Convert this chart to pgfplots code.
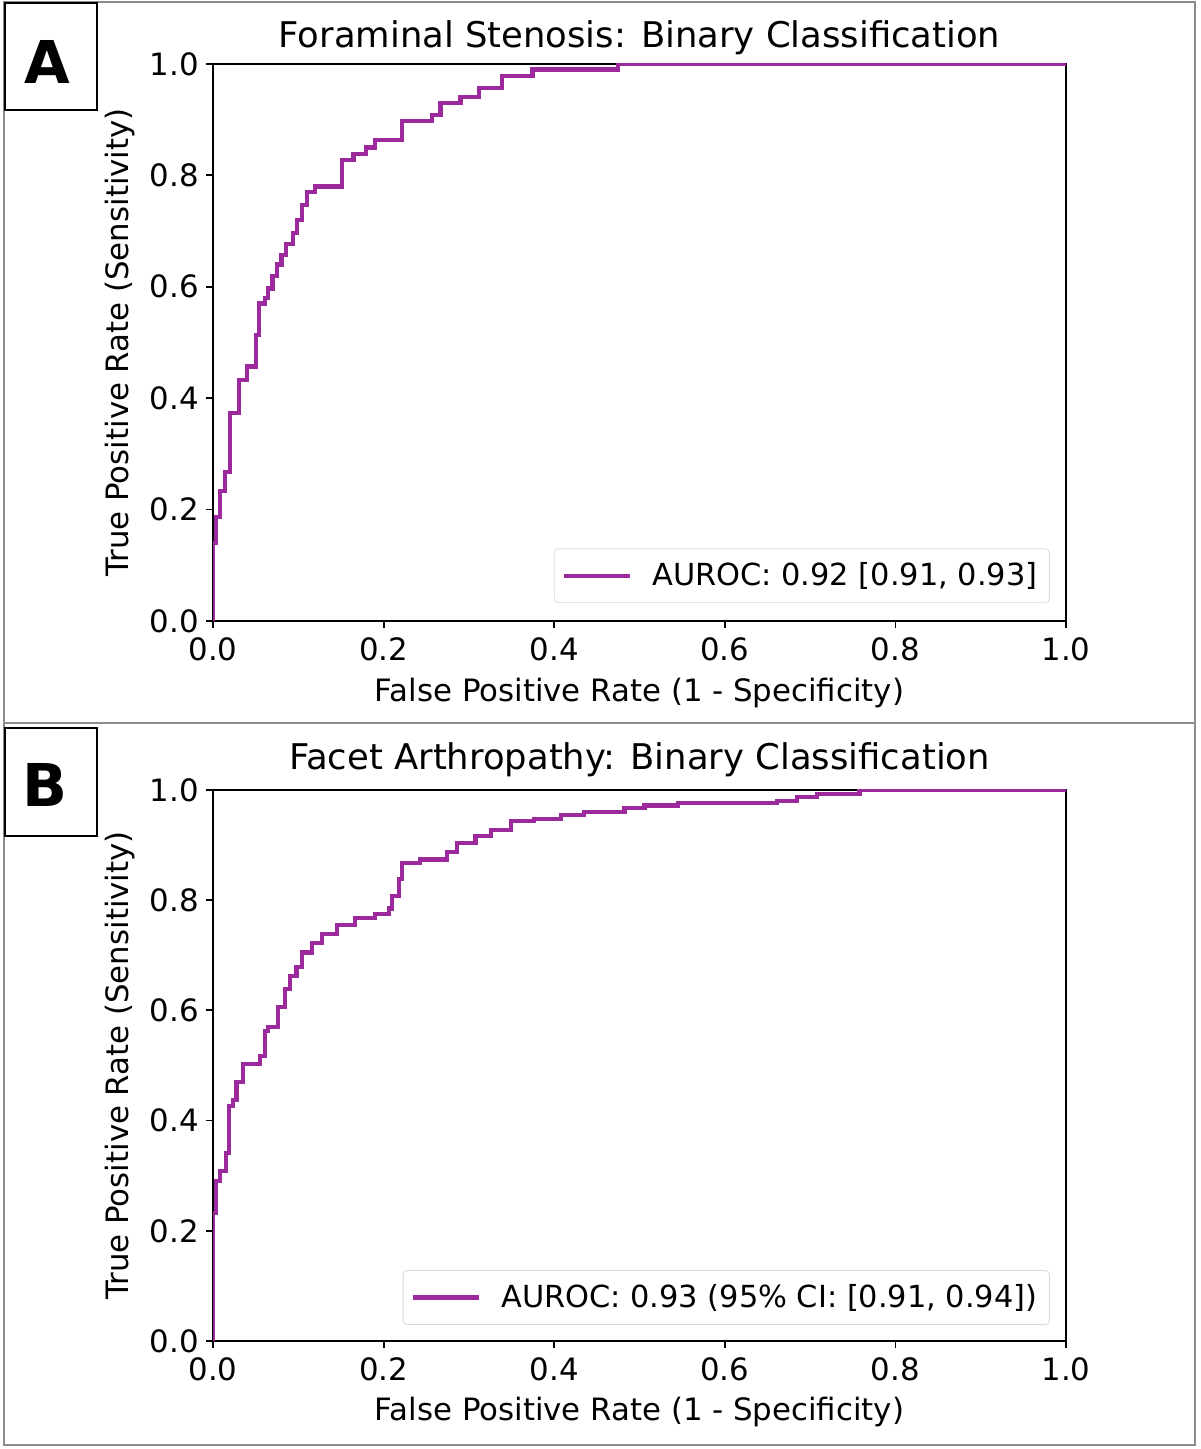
\documentclass[border=0pt]{standalone}
\usepackage{fontspec}
\setmainfont{DejaVu Sans}
\usepackage{pgfplots}
\pgfplotsset{compat=1.18}
\definecolor{roc}{RGB}{156,42,156}
\definecolor{framegray}{RGB}{140,140,140}

\pgfplotsset{rocaxis/.style={
  scale only axis, width=426.5pt,
  xmin=0, xmax=1, ymin=0, ymax=1,
  xtick={0,0.2,0.4,0.6,0.8,1},
  ytick={0,0.2,0.4,0.6,0.8,1},
  tick pos=left,
  tick align=outside,
  major tick length=3.5pt,
  /pgf/number format/fixed,
  /pgf/number format/fixed zerofill,
  /pgf/number format/precision=1,
  /pgf/number format/assume math mode=true,
  tick label style={font=\fontsize{15.4}{18}\selectfont, black},
  xticklabel style={yshift=-1.5pt},
  label style={font=\fontsize{15.4}{18}\selectfont},
  every axis title shift=0pt,
  title style={font=\fontsize{17.7}{21}\selectfont, anchor=base},
  axis line style={line width=0.9pt, black},
  every tick/.style={black, line width=0.9pt},
  xlabel={False Positive Rate (1 - Specificity)},
  ylabel={True Positive Rate (Sensitivity)},
  xlabel style={at={(axis description cs:0.5,-0.144)}, anchor=base},
  ylabel style={at={(axis description cs:-0.109,0.5)}, anchor=center},
  legend cell align=left,
  legend image code/.code={\draw[#1] (0pt,0pt) -- (33pt,0pt);},
  legend style={font=\fontsize{15.2}{18}\selectfont, draw=black!15, rounded corners=2pt,
     fill=white, inner xsep=4pt, inner ysep=5pt, anchor=south east,
     /tikz/every odd column/.append style={column sep=8pt}},
}}

\begin{document}
\begin{tikzpicture}
\useasboundingbox (0,0) rectangle (600pt,724.5pt);
\draw[framegray, line width=1pt] (2pt,2pt) rectangle (597.5pt,723.5pt);
\draw[framegray, line width=1.2pt] (2pt,363pt) -- (597.5pt,363pt);
\draw[black, line width=1pt] (2.5pt,669.5pt) rectangle (48.5pt,723pt);
\node[font=\fontsize{29.5}{32}\selectfont\bfseries] at (23.5pt,693.5pt) {A};
\draw[black, line width=1pt] (2.5pt,306.5pt) rectangle (48.5pt,360.5pt);
\node[font=\fontsize{29.5}{32}\selectfont\bfseries] at (22.5pt,332pt) {B};

\begin{axis}[rocaxis, at={(106.5pt,414pt)}, anchor=south west, height=278.5pt,
  title={Foraminal Stenosis: Binary Classification},
  title style={at={(axis description cs:0.5,1.0287)}},
  legend style={at={(axis description cs:0.981,0.032)}}]
\addplot[roc, line width=2.1pt, const plot mark left] coordinates {
(0,0) (0,0.14) (0.0039,0.187) (0.0086,0.233) (0.0137,0.267) (0.0196,0.373)
(0.0306,0.433) (0.04,0.457) (0.0502,0.513) (0.054,0.57) (0.0608,0.58)
(0.0647,0.597) (0.0698,0.62) (0.0753,0.64) (0.0804,0.657) (0.0855,0.677)
(0.0941,0.697) (0.0988,0.72) (0.1039,0.747) (0.1098,0.77) (0.1196,0.78)
(0.151,0.828) (0.1647,0.838) (0.1796,0.85) (0.1902,0.863) (0.2216,0.897)
(0.2569,0.908) (0.2667,0.93) (0.2902,0.941) (0.3118,0.957) (0.3392,0.979)
(0.3745,0.99) (0.4745,1.0) (1,1)
};
\addlegendentry{AUROC: 0.92 [0.91, 0.93]}
\end{axis}

\begin{axis}[rocaxis, at={(106.5pt,54pt)}, anchor=south west, height=275.5pt,
  title={Facet Arthropathy: Binary Classification},
  title style={at={(axis description cs:0.5,1.0363)}},
  legend style={at={(axis description cs:0.981,0.029)}}]
\addplot[roc, line width=2.1pt, const plot mark left] coordinates {
(0,0) (0,0.232) (0.0031,0.291) (0.0078,0.308) (0.0157,0.341) (0.0188,0.427)
(0.0235,0.437) (0.0275,0.47) (0.0353,0.503) (0.0549,0.517) (0.0608,0.563)
(0.0647,0.57) (0.0765,0.606) (0.0843,0.639) (0.0902,0.662) (0.098,0.679)
(0.1039,0.705) (0.1157,0.722) (0.1275,0.738) (0.1451,0.755) (0.1667,0.768)
(0.1902,0.775) (0.2059,0.785) (0.2098,0.808) (0.2176,0.838) (0.2216,0.868)
(0.2431,0.874) (0.2745,0.887) (0.2863,0.904) (0.3078,0.917) (0.3255,0.927)
(0.349,0.944) (0.3765,0.948) (0.4078,0.954) (0.4353,0.96) (0.4824,0.967)
(0.5059,0.972) (0.5451,0.977) (0.661,0.98) (0.685,0.987) (0.708,0.993)
(0.758,1.0) (1,1)
};
\addlegendentry{AUROC: 0.93 (95\% CI: [0.91, 0.94])}
\end{axis}
\end{tikzpicture}
\end{document}
